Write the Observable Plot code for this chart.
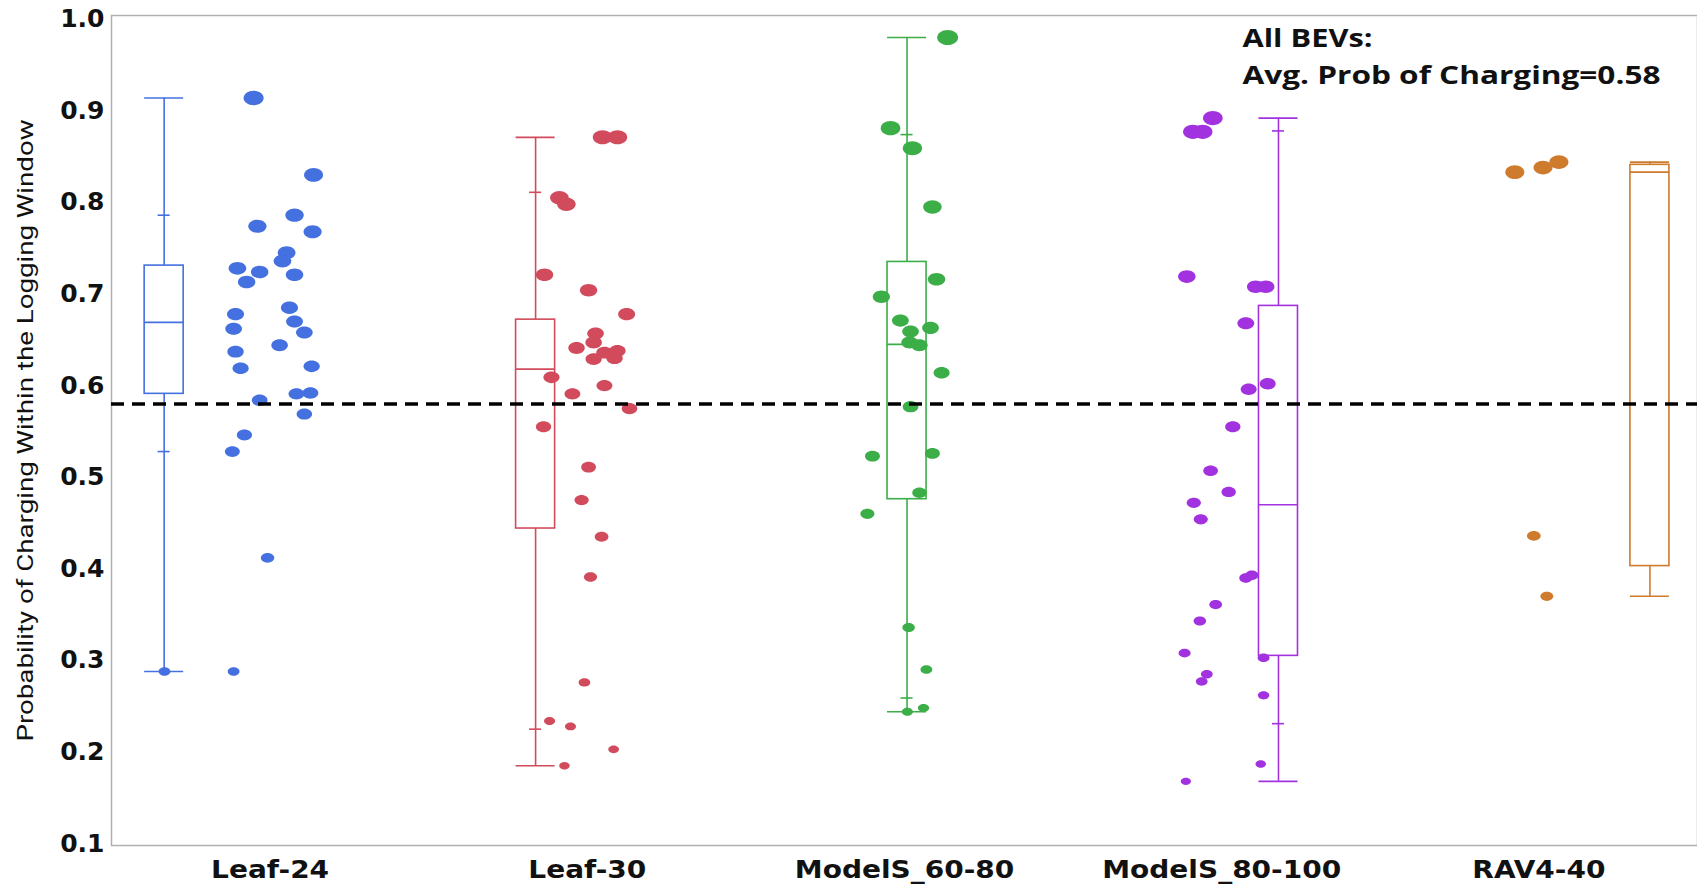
<!DOCTYPE html>
<html><head><meta charset="utf-8">
<script src="https://cdn.jsdelivr.net/npm/d3@7"></script>
<script src="https://cdn.jsdelivr.net/npm/@observablehq/plot@0.6"></script>
<style>html,body{margin:0;padding:0;background:#fff;} #chart svg{display:block;}</style>
</head><body><div id="chart"></div>
<script>
const categories = ["Leaf-24", "Leaf-30", "ModelS_60-80", "ModelS_80-100", "RAV4-40"];
const colors = ["#4470e0", "#d24b5c", "#3cae48", "#a232e0", "#cf7b2d"];

const leaf24Values = [0.914,0.830,0.774,0.786,0.768,0.745,0.736,0.728,0.724,0.713,0.721,0.678,0.685,0.662,0.670,0.658,0.644,0.637,0.619,0.621,0.584,0.591,0.592,0.569,0.546,0.528,0.412,0.288,0.288];
const leaf24Jitter = [-0.052,0.137,-0.040,0.077,0.134,0.052,0.039,-0.103,-0.033,-0.074,0.077,-0.109,0.061,-0.115,0.077,0.108,0.030,-0.109,-0.093,0.131,-0.033,0.083,0.127,0.108,-0.081,-0.119,-0.008,-0.115,-0.333];

const leaf30Values = [0.871,0.871,0.805,0.798,0.721,0.704,0.678,0.657,0.647,0.641,0.638,0.629,0.636,0.630,0.609,0.600,0.591,0.575,0.555,0.511,0.475,0.435,0.391,0.276,0.234,0.228,0.203,0.185];
const leaf30Jitter = [0.048,0.095,-0.088,-0.066,-0.135,0.004,0.124,0.026,0.020,-0.034,0.095,0.020,0.054,0.086,-0.113,0.054,-0.047,0.133,-0.138,0.004,-0.018,0.045,0.010,-0.009,-0.119,-0.053,0.083,-0.072];

const modelS6080Values = [0.980,0.881,0.859,0.795,0.716,0.697,0.671,0.659,0.663,0.647,0.644,0.614,0.577,0.523,0.526,0.483,0.460,0.336,0.290,0.248,0.244];
const modelS6080Jitter = [0.136,-0.044,0.025,0.088,0.101,-0.073,-0.013,0.019,0.082,0.016,0.047,0.117,0.019,-0.101,0.088,0.047,-0.117,0.013,0.069,0.060,0.009];

const modelS80100Values = [0.892,0.877,0.877,0.719,0.708,0.708,0.668,0.596,0.602,0.555,0.507,0.484,0.472,0.454,0.390,0.393,0.361,0.343,0.308,0.303,0.285,0.277,0.262,0.187,0.168];
const modelS80100Jitter = [-0.028,-0.091,-0.060,-0.110,0.107,0.139,0.076,0.085,0.145,0.035,-0.035,0.022,-0.088,-0.066,0.076,0.095,-0.019,-0.069,-0.117,0.132,-0.047,-0.063,0.132,0.123,-0.113];

const rav440Values = [0.833,0.838,0.844,0.436,0.370];
const rav440Jitter = [-0.076,0.013,0.063,-0.016,0.025];

// box statistics (min, 10%, 25%, median, 75%, 90%, max)
const boxMin    = [0.288,0.185,0.244,0.168,0.370];
const boxP10    = [0.528,0.225,0.259,0.231,null];
const boxQ1     = [0.591,0.444,0.476,0.305,0.403];
const boxMedian = [0.669,0.618,0.645,0.470,0.833];
const boxQ3     = [0.731,0.672,0.735,0.687,0.841];
const boxP90    = [0.786,0.811,0.874,0.878,null];
const boxMax    = [0.914,0.871,0.980,0.892,0.844];

const overallMean = 0.58;
const yTicks = [0.1,0.2,0.3,0.4,0.5,0.6,0.7,0.8,0.9,1.0];
const yLabel = "Probability of Charging Within the Logging Window";
const annotationLines = ["All BEVs:", "Avg. Prob of Charging=0.58"];

// ---- build tables ----
const seriesValues = [leaf24Values, leaf30Values, modelS6080Values, modelS80100Values, rav440Values];
const seriesJitter = [leaf24Jitter, leaf30Jitter, modelS6080Jitter, modelS80100Jitter, rav440Jitter];
const points = seriesValues.flatMap((vals, i) => vals.map((v, j) => ({cat: categories[i], i, value: v, jitter: seriesJitter[i][j]})));

const hw = 0.0615;   // box half width (category units)
const tw = 0.019;    // quantile tick half width
const boxes = categories.map((c, i) => ({
  cat: c, i, pos: i + (i - 2) * 0.171 + 0.008,
  min: boxMin[i], p10: boxP10[i], q1: boxQ1[i], median: boxMedian[i],
  q3: boxQ3[i], p90: boxP90[i], max: boxMax[i]
}));

// ellipse symbol (dots in the source are wider than tall)
const ellipse = {
  draw(context, size) {
    const rx = Math.sqrt(size / Math.PI), ry = rx * 0.72, k = 0.5523;
    context.moveTo(rx, 0);
    context.bezierCurveTo(rx, ry * k, rx * k, ry, 0, ry);
    context.bezierCurveTo(-rx * k, ry, -rx, ry * k, -rx, 0);
    context.bezierCurveTo(-rx, -ry * k, -rx * k, -ry, 0, -ry);
    context.bezierCurveTo(rx * k, -ry, rx, -ry * k, rx, 0);
    context.closePath();
  }
};

const sw = 1.6;
const annoStyle = {frameAnchor: "top-left", textAnchor: "start", lineAnchor: "top", dx: 1131, fontSize: 25, fontWeight: 700, fontFamily: "Open Sans", fill: "#111"};
const chart = Plot.plot({
  width: 1697,
  height: 884,
  marginLeft: 111,
  marginRight: 0,
  marginTop: 15,
  marginBottom: 39,
  style: {fontFamily: "DejaVu Sans", background: "white", color: "#111"},
  x: {type: "linear", domain: [-0.5, 4.5]},
  y: {domain: [0.098, 1.004]},
  r: {type: "linear", domain: [0, 1], range: [4.0, 10.6]},
  color: {domain: categories, range: colors},
  marks: [
    Plot.frame({stroke: "#b0b0b0", strokeWidth: 1.5}),
    Plot.axisY({ticks: yTicks, tickFormat: d3.format(".1f"), tickSize: 0, tickPadding: 7, fontSize: 25, fontWeight: "bold", label: null}),
    Plot.axisX({ticks: [0, 1, 2, 3, 4], tickFormat: (i) => categories[i], tickSize: 0, tickPadding: 15, fontSize: 25, fontWeight: "bold", label: null}),
    Plot.text([yLabel], {frameAnchor: "left", textAnchor: "middle", lineAnchor: "middle", rotate: -90, dx: -86, fontSize: 22, fontFamily: "Roboto", fill: "#111"}),
    // whiskers
    Plot.ruleX(boxes, {x: "pos", y1: "min", y2: "q1", stroke: "cat", strokeWidth: sw}),
    Plot.ruleX(boxes, {x: "pos", y1: "q3", y2: "max", stroke: "cat", strokeWidth: sw}),
    Plot.ruleY(boxes, {y: "min", x1: (d) => d.pos - hw, x2: (d) => d.pos + hw, stroke: "cat", strokeWidth: sw}),
    Plot.ruleY(boxes, {y: "max", x1: (d) => d.pos - hw, x2: (d) => d.pos + hw, stroke: "cat", strokeWidth: sw}),
    Plot.ruleY(boxes.filter((d) => d.p10 != null), {y: "p10", x1: (d) => d.pos - tw, x2: (d) => d.pos + tw, stroke: "cat", strokeWidth: sw}),
    Plot.ruleY(boxes.filter((d) => d.p90 != null), {y: "p90", x1: (d) => d.pos - tw, x2: (d) => d.pos + tw, stroke: "cat", strokeWidth: sw}),
    // box
    Plot.rect(boxes, {x1: (d) => d.pos - hw, x2: (d) => d.pos + hw, y1: "q1", y2: "q3", fill: "white", stroke: "cat", strokeWidth: sw}),
    Plot.ruleY(boxes, {y: "median", x1: (d) => d.pos - hw, x2: (d) => d.pos + hw, stroke: "cat", strokeWidth: sw}),
    // jittered points
    Plot.dot(points, {x: (d) => d.i + d.jitter, y: "value", r: "value", fill: "cat", symbol: ellipse}),
    // overall mean
    Plot.ruleY([overallMean], {stroke: "black", strokeWidth: 3.5, strokeDasharray: "13,8"}),
    // annotation
    Plot.text([annotationLines[0]], {...annoStyle, dy: 14}),
    Plot.text([annotationLines[1]], {...annoStyle, dy: 51})
  ]
});
document.getElementById("chart").appendChild(chart);
// stretch texts to the widths seen in the source picture
const stretch = {[yLabel]: 622, [annotationLines[0]]: 130, [annotationLines[1]]: 418};
d3.select(chart).selectAll("text").each(function () {
  const t = this.textContent;
  if (stretch[t]) {
    d3.select(this).attr("textLength", stretch[t]).attr("lengthAdjust", "spacingAndGlyphs");
  } else if (categories.includes(t)) {
    const w = this.getComputedTextLength();
    d3.select(this).attr("textLength", w * 1.12).attr("lengthAdjust", "spacingAndGlyphs");
  }
});
</script>
</body></html>
